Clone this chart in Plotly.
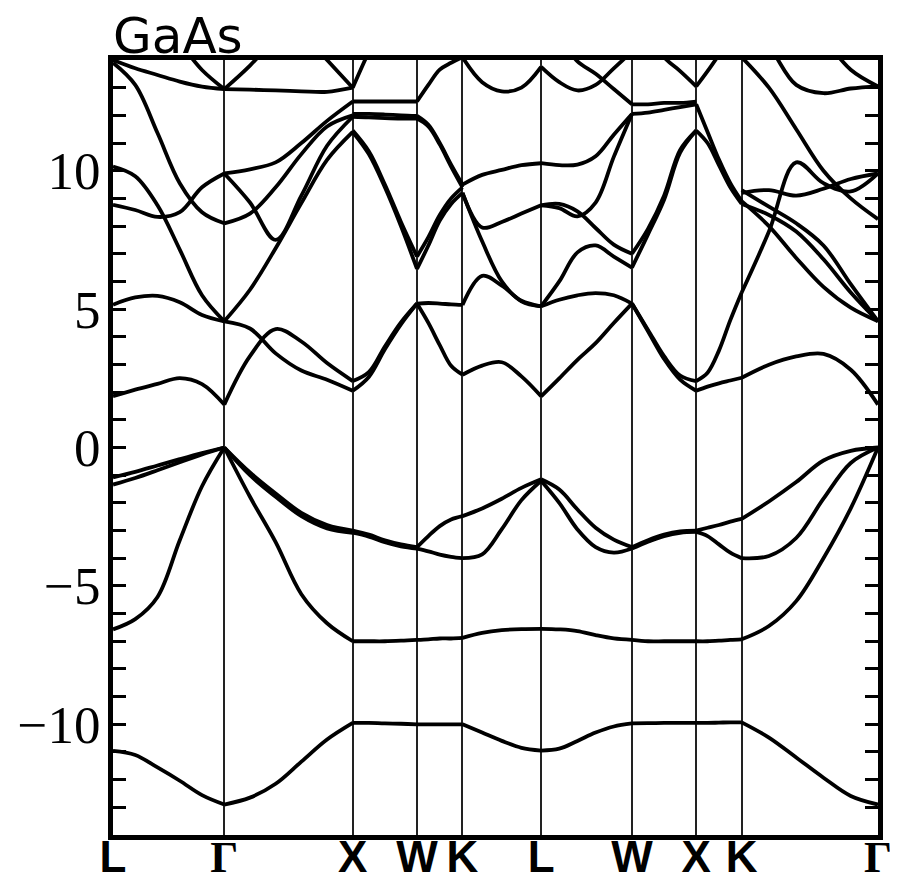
import plotly.graph_objects as go

# High-symmetry path and segment lengths (units of 2*pi/a)
labels = ["L", "Γ", "X", "W", "K", "L", "W", "X", "K", "Γ"]
seg_len = [0.866, 1.0, 0.5, 0.354, 0.612, 0.707, 0.5, 0.354, 1.061]

# fractional sampling positions inside each segment
t6 = [0, 0.2, 0.4, 0.6, 0.8, 1.0]
t5 = [0, 0.25, 0.5, 0.75, 1.0]

# Energies (eV), one list per drawn curve
LG = [
    [-10.96, -11.11, -11.56, -12.04, -12.56, -12.9],
    [-6.57, -6.2, -5.4, -3.35, -1.4, 0.0],
    [-1.08, -0.88, -0.65, -0.42, -0.2, 0.0],
    [-1.34, -1.1, -0.82, -0.53, -0.25, 0.0],
    [1.85, 2.09, 2.3, 2.51, 2.29, 1.55],
    [5.16, 5.42, 5.48, 5.25, 4.79, 4.56],
    [10.15, 9.8, 8.75, 7.15, 5.5, 4.56],
    [8.77, 8.58, 8.33, 8.5, 9.4, 9.9],
    [13.9, 13.1, 11.36, 9.55, 8.5, 8.1],
    [14.0, 13.7, 13.46, 13.22, 13.04, 12.95],
    [16.5, 16.0, 15.4, 14.6, 13.64, 12.95],
]
GX = [
    [-12.9, -12.65, -12.15, -11.35, -10.55, -9.95],
    [0.0, -1.78, -3.42, -5.3, -6.35, -7.0],
    [0.0, -0.9, -1.66, -2.36, -2.8, -3.0],
    [0.0, -1.0, -1.78, -2.48, -2.92, -3.08],
    [1.55, 3.3, 4.28, 3.83, 3.05, 2.4],
    [4.56, 4.3, 3.4, 2.78, 2.45, 2.05],
    [4.56, 5.7, 7.2, 8.83, 10.39, 11.4],
    [9.9, 8.85, 7.5, 9.1, 10.9, 11.95],
    [8.1, 8.45, 9.4, 10.6, 11.6, 12.0],
    [9.9, 10.05, 10.3, 11.0, 11.8, 12.5],
    [12.95, 12.93, 12.9, 12.87, 12.85, 13.0],
    [12.95, 13.8, 14.8, 15.8, 16.5, 17.0],
    [17.0, 17.0, 16.0, 15.0, 14.0, 13.0],
]
XW = [
    [-9.95, -9.95, -9.97, -9.98, -10.0],
    [-7.0, -7.0, -7.0, -6.98, -6.95],
    [-3.0, -3.15, -3.35, -3.5, -3.6],
    [-3.08, -3.22, -3.42, -3.57, -3.65],
    [2.05, 2.55, 3.55, 4.45, 5.2],
    [2.4, 2.72, 3.65, 4.52, 5.2],
    [11.4, 10.6, 9.4, 8.0, 6.45],
    [11.45, 10.7, 9.5, 8.15, 6.9],
    [12.05, 12.05, 12.03, 12.0, 11.98],
    [11.95, 11.93, 11.9, 11.88, 11.88],
    [12.5, 12.5, 12.5, 12.5, 12.5],
    [13.0, 14.3, 15.5, 16.5, 17.0],
]
WK = [
    [-10.0, -10.0, -10.0, -10.0, -10.0],
    [-6.95, -6.93, -6.9, -6.9, -6.88],
    [-3.6, -3.2, -2.84, -2.6, -2.48],
    [-3.65, -3.75, -3.87, -3.95, -4.0],
    [5.2, 4.5, 3.7, 2.95, 2.63],
    [5.2, 5.22, 5.2, 5.17, 5.15],
    [6.45, 7.3, 8.2, 8.8, 9.2],
    [6.9, 7.6, 8.4, 9.0, 9.4],
    [11.98, 11.66, 11.0, 10.22, 9.5],
    [11.88, 11.6, 10.95, 10.15, 9.4],
    [12.5, 13.1, 13.65, 13.9, 14.1],
]
KL = [
    [-10.0, -10.3, -10.6, -10.85, -10.95],
    [-6.88, -6.7, -6.6, -6.56, -6.55],
    [-2.48, -2.2, -1.85, -1.46, -1.15],
    [-4.0, -3.86, -2.95, -1.9, -1.2],
    [2.63, 2.96, 3.08, 2.57, 1.85],
    [5.15, 6.2, 5.85, 5.3, 5.1],
    [9.2, 7.45, 6.0, 5.28, 5.1],
    [9.2, 7.95, 8.15, 8.45, 8.75],
    [9.5, 9.85, 10.03, 10.2, 10.27],
    [14.1, 13.2, 12.87, 13.0, 13.75],
]
LW = [
    [-10.95, -10.88, -10.6, -10.3, -10.08, -9.97],
    [-6.55, -6.57, -6.63, -6.78, -6.9, -6.95],
    [-1.15, -1.52, -2.24, -2.9, -3.33, -3.6],
    [-1.2, -2.0, -2.96, -3.6, -3.8, -3.65],
    [1.85, 2.5, 3.17, 3.77, 4.5, 5.2],
    [5.1, 5.34, 5.5, 5.58, 5.5, 5.2],
    [5.1, 6.0, 7.05, 7.3, 6.9, 6.5],
    [8.75, 8.8, 8.53, 7.93, 7.33, 7.0],
    [8.75, 8.65, 8.35, 8.85, 10.5, 12.05],
    [10.27, 10.2, 10.22, 10.52, 11.3, 12.05],
    [13.75, 13.2, 12.9, 13.1, 13.7, 14.3],
    [15.5, 14.8, 13.95, 13.5, 12.95, 12.4],
]
WX = [
    [-9.97, -9.96, -9.95, -9.95, -9.95],
    [-6.95, -7.0, -7.0, -7.0, -7.0],
    [-3.6, -3.35, -3.15, -3.03, -3.0],
    [-3.65, -3.4, -3.2, -3.08, -3.05],
    [5.2, 4.2, 3.2, 2.45, 2.05],
    [5.2, 4.25, 3.3, 2.6, 2.4],
    [6.5, 7.7, 8.95, 10.65, 11.45],
    [7.0, 7.9, 9.1, 10.75, 11.45],
    [12.05, 12.1, 12.2, 12.3, 12.4],
    [12.4, 12.4, 12.45, 12.45, 12.5],
    [16.0, 15.0, 14.1, 13.6, 13.05],
]
XK = [
    [-9.95, -9.95, -9.94, -9.93, -9.93],
    [-7.0, -7.0, -6.98, -6.95, -6.93],
    [-3.0, -2.9, -2.8, -2.68, -2.58],
    [-3.05, -3.2, -3.5, -3.8, -4.0],
    [2.05, 2.2, 2.32, 2.42, 2.52],
    [2.4, 2.7, 3.5, 4.6, 5.6],
    [12.4, 11.4, 10.4, 9.55, 8.9],
    [11.45, 11.0, 10.2, 9.4, 8.8],
    [13.05, 13.6, 14.2, 15.0, 15.5],
]
KG = [
    [-9.93, -10.48, -11.2, -11.93, -12.59, -12.9],
    [-6.93, -6.45, -5.55, -4.0, -2.2, 0.0],
    [-2.58, -1.95, -1.25, -0.47, -0.12, 0.0],
    [-4.0, -3.92, -3.27, -1.85, -0.56, 0.0],
    [2.52, 2.99, 3.29, 3.38, 2.81, 1.55],
    [5.6, 7.8, 10.3, 9.55, 9.25, 9.9],
    [8.9, 8.0, 6.85, 5.8, 5.05, 4.56],
    [8.8, 8.4, 7.8, 6.8, 5.6, 4.56],
    [9.3, 8.7, 8.1, 7.3, 5.9, 4.56],
    [9.2, 9.3, 9.1, 9.35, 9.7, 9.9],
    [14.1, 13.0, 11.5, 10.0, 9.0, 8.25],
    [15.5, 14.5, 13.1, 12.8, 12.97, 13.05],
    [17.0, 17.0, 16.0, 14.8, 13.65, 13.05],
]

segments = [(LG, t6), (GX, t6), (XW, t5), (WK, t5), (KL, t5),
            (LW, t6), (WX, t5), (XK, t5), (KG, t6)]

kpos = [0.0]
for s in seg_len:
    kpos.append(kpos[-1] + s)

fig = go.Figure()
for i, (bands, tt) in enumerate(segments):
    k0, ln = kpos[i], seg_len[i]
    xs = [k0 + t * ln for t in tt]
    for b in bands:
        fig.add_trace(go.Scatter(
            x=xs, y=b, mode="lines",
            line=dict(color="black", width=3.8, shape="spline", smoothing=1.0),
            hoverinfo="skip", showlegend=False))

ytick_vals = list(range(-13, 14))
ytick_text = [("−" + str(abs(v)) if v < 0 else str(v)) if v % 5 == 0 else "" for v in ytick_vals]
xtick_text = [f"<span style='font-family:Liberation Serif'><b>{l}</b></span>" if l == "Γ"
              else f"<b>{l}</b>" for l in labels]

fig.update_layout(
    width=890, height=875,
    margin=dict(l=105, r=20, t=52, b=48),
    paper_bgcolor="white", plot_bgcolor="white",
    xaxis=dict(range=[kpos[0], kpos[-1]], tickvals=kpos, ticktext=xtick_text,
               showgrid=True, gridcolor="#222222", gridwidth=2,
               showline=True, linecolor="black", linewidth=5, mirror=True,
               ticks="", zeroline=False, automargin=False, ticklabelstandoff=-21,
               tickfont=dict(family="Liberation Sans", size=44, color="black")),
    yaxis=dict(range=[-14, 14], tickvals=ytick_vals, ticktext=ytick_text,
               showgrid=False, zeroline=False, automargin=False,
               showline=True, linecolor="black", linewidth=5, mirror="ticks",
               ticks="inside", ticklen=13, tickwidth=2.5, tickcolor="black",
               ticklabelstandoff=-3,
               tickfont=dict(family="Liberation Serif", size=53, color="black")),
    annotations=[dict(text="GaAs", xref="paper", yref="paper", x=0.0, y=1.0,
                      xanchor="left", yanchor="bottom", yshift=-6, xshift=-1,
                      borderpad=0, showarrow=False,
                      font=dict(family="DejaVu Sans", size=50, color="black"))],
)

fig.write_html("out.html")
